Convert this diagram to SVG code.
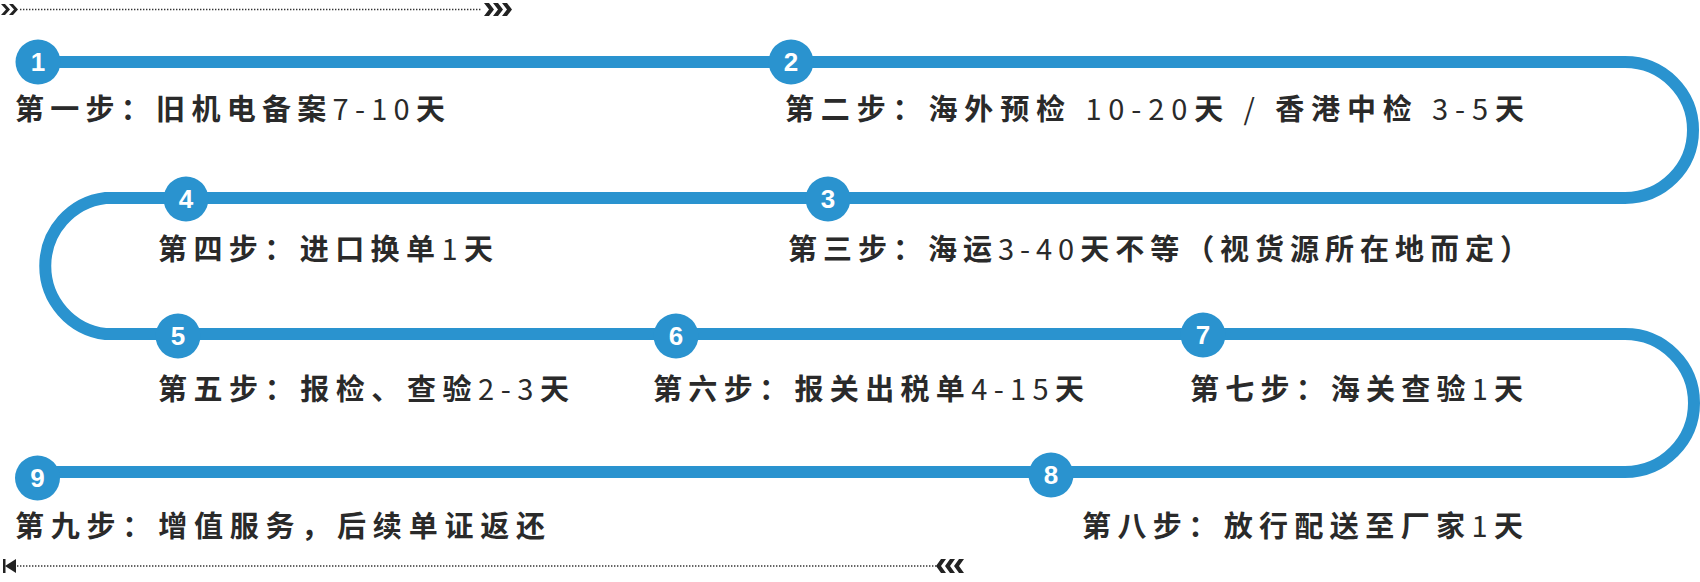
<svg xmlns="http://www.w3.org/2000/svg" width="1700" height="582" viewBox="0 0 1700 582">
<style>
.track{fill:none;stroke:#2a93cf;stroke-width:12}
.dot{fill:#2a93cf}
.num{fill:#fff;font-family:"Liberation Sans",Arial,sans-serif;font-weight:bold;font-size:26px;text-anchor:middle}
.lbl{fill:#2a2a2a;font-family:"Noto Sans CJK SC","Noto Sans",sans-serif;font-weight:bold;font-size:29px}
.d{font-weight:normal}
.dots{stroke:#333;stroke-width:1.6;stroke-dasharray:1.4 1.6;fill:none}
.chev{fill:#222}
</style>
<rect width="1700" height="582" fill="#fff"/>
<g id="deco">
<line class="dots" x1="20" y1="9.5" x2="482" y2="9.5"/>
<polygon class="chev" points="1,4 5,4 10,9.5 5,15 1,15 6,9.5"/>
<polygon class="chev" points="9,4 13,4 18,9.5 13,15 9,15 14,9.5"/>
<polygon class="chev" points="484,3 489,3 494,9.5 489,16 484,16 489,9.5"/>
<polygon class="chev" points="493,3 498,3 503,9.5 498,16 493,16 498,9.5"/>
<polygon class="chev" points="502,3 507,3 512,9.5 507,16 502,16 507,9.5"/>
<line class="dots" x1="17" y1="566" x2="938" y2="566"/>
<rect class="chev" x="3" y="559" width="2.5" height="14"/>
<polygon class="chev" points="5,566 16,559 16,573"/>
<polygon class="chev" points="946,559 941,559 936,566 941,573 946,573 941,566"/>
<polygon class="chev" points="955,559 950,559 945,566 950,573 955,573 950,566"/>
<polygon class="chev" points="964,559 959,559 954,566 959,573 964,573 959,566"/>
</g>
<g id="connectors">
<path class="track" d="M38,62 H1625 A68,68 0 0 1 1625,198 H105.5 A68.5,68.5 0 0 0 105.5,334 H1625 A69,69 0 0 1 1625,472 H37"/>
</g>
<g id="n1"><circle class="dot" cx="38" cy="62" r="22.5"/><text class="num" x="38" y="71">1</text>
<text class="lbl" x="15" y="120" textLength="430" lengthAdjust="spacing">第一步：旧机电备案<tspan class="d">7-10</tspan>天</text></g>
<g id="n2"><circle class="dot" cx="791" cy="62" r="22.5"/><text class="num" x="791" y="71">2</text>
<text class="lbl" x="785" y="120" textLength="739" lengthAdjust="spacing">第二步：海外预检 <tspan class="d">10-20</tspan>天 <tspan class="d">/</tspan> 香港中检 <tspan class="d">3-5</tspan>天</text></g>
<g id="n3"><circle class="dot" cx="828" cy="199" r="22.5"/><text class="num" x="828" y="208">3</text>
<text class="lbl" x="788" y="260" textLength="741" lengthAdjust="spacing">第三步：海运<tspan class="d">3-40</tspan>天不等（视货源所在地而定）</text></g>
<g id="n4"><circle class="dot" cx="186" cy="199" r="22.5"/><text class="num" x="186" y="208">4</text>
<text class="lbl" x="158" y="260" textLength="335" lengthAdjust="spacing">第四步：进口换单<tspan class="d">1</tspan>天</text></g>
<g id="n5"><circle class="dot" cx="178" cy="336" r="22.5"/><text class="num" x="178" y="345">5</text>
<text class="lbl" x="158" y="400" textLength="411" lengthAdjust="spacing">第五步：报检、查验<tspan class="d">2-3</tspan>天</text></g>
<g id="n6"><circle class="dot" cx="676" cy="336" r="22.5"/><text class="num" x="676" y="345">6</text>
<text class="lbl" x="653" y="400" textLength="431" lengthAdjust="spacing">第六步：报关出税单<tspan class="d">4-15</tspan>天</text></g>
<g id="n7"><circle class="dot" cx="1203" cy="335" r="22.5"/><text class="num" x="1203" y="344">7</text>
<text class="lbl" x="1190" y="400" textLength="333" lengthAdjust="spacing">第七步：海关查验<tspan class="d">1</tspan>天</text></g>
<g id="n8"><circle class="dot" cx="1051" cy="475" r="22.5"/><text class="num" x="1051" y="484">8</text>
<text class="lbl" x="1082" y="537" textLength="441" lengthAdjust="spacing">第八步：放行配送至厂家<tspan class="d">1</tspan>天</text></g>
<g id="n9"><circle class="dot" cx="37.5" cy="478" r="22.5"/><text class="num" x="37.5" y="487">9</text>
<text class="lbl" x="15" y="537" textLength="530" lengthAdjust="spacing">第九步：增值服务，后续单证返还</text></g>
</svg>
